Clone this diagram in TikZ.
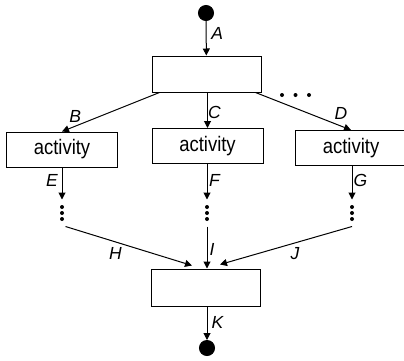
\documentclass[tikz,border=0pt]{standalone}
\usepackage{fontspec}
\usepackage{graphicx}
\setmainfont{Liberation Sans}
\usetikzlibrary{arrows.meta,calc}
% slightly condensed sans text for the box captions
\newcommand\narrowtext[1]{\scalebox{0.88}[1]{#1}}
\begin{document}
\begin{tikzpicture}[x=1pt,y=-1pt,
  line width=1pt,
  flow/.style={-{Triangle[length=7pt,width=7pt]}},
  bar/.style={draw,rectangle,minimum width=109pt,minimum height=36pt,inner sep=0pt},
  act/.style={draw,rectangle,minimum width=111pt,minimum height=35pt,inner sep=0pt,
    font=\fontsize{21}{23}\selectfont},
  terminal/.style={circle,fill=black,draw=black,minimum size=15pt,inner sep=0pt},
  vdots/.style={rectangle,minimum width=6pt,minimum height=26pt,inner sep=0pt,
    path picture={\foreach \d in {-6,0,6}
      \fill ($(path picture bounding box.center)+(0,\d)$) circle (2pt);}},
  lab/.style={font=\fontsize{17.5}{19}\selectfont\itshape,inner sep=0pt}]
\clip (0,0) rectangle (404,360);

% nodes
\node[terminal] (start) at (206,13) {};
\node[bar] (fork) at (206.5,74) {};
\node[act] (left) at (62,149.5) {\narrowtext{activity}};
\node[act] (mid) at (207.5,146) {\narrowtext{activity}};
\node[act] (right) at (351,148) {\narrowtext{activity}};
\node[vdots] (e1) at (62,213) {};
\node[vdots] (e2) at (207,213) {};
\node[vdots] (e3) at (352,213) {};
\node[bar,minimum height=37pt] (join) at (206,287.5) {};
\node[terminal] (end) at (207,348) {};

% further branches
\foreach \x in {282,295.5,309} \fill (\x,95) circle (2pt);

% connector end points
\coordinate (bOut) at ($(fork.south west)+(8,0)$);
\coordinate (dOut) at ($(fork.south east)+(-6,0)$);
\coordinate (hIn) at ($(join.north)+(-14,-3)$);
\coordinate (jIn) at ($(join.north)+(14,-4)$);

% connectors
\draw[flow] (start) -- node[lab,pos=.35,xshift=11pt] {A} (fork);
\draw[flow] (bOut) -- node[lab,pos=.865,yshift=10pt] {B} (left.north);
\draw[flow] (fork.south -| mid.north) -- node[lab,pos=.55,xshift=7pt] {C} (mid.north);
\draw[flow] (dOut) -- node[lab,pos=.895,yshift=13pt] {D} (right.north);
\draw[flow] (left.south) -- node[lab,pos=.42,xshift=-10pt] {E} (e1.north);
\draw[flow] (mid.south -| e2.north) -- node[lab,pos=.47,xshift=7.5pt] {F} (e2.north);
\draw[flow] (right.south -| e3.north) -- node[lab,pos=.44,xshift=8.5pt] {G} (e3.north);
\draw[flow] (e1.south east) -- node[lab,pos=.394,yshift=-12pt] {H} (hIn);
\draw[flow] (e2.south) -- node[lab,pos=.536,xshift=5pt] {I} (join.north -| e2.south);
\draw[flow] (e3.south) -- node[lab,pos=.432,yshift=-11pt] {J} (jIn);
\draw[flow] (join.south -| end.north) -- node[lab,pos=.48,xshift=10.5pt] {K} (end);
\end{tikzpicture}
\end{document}
